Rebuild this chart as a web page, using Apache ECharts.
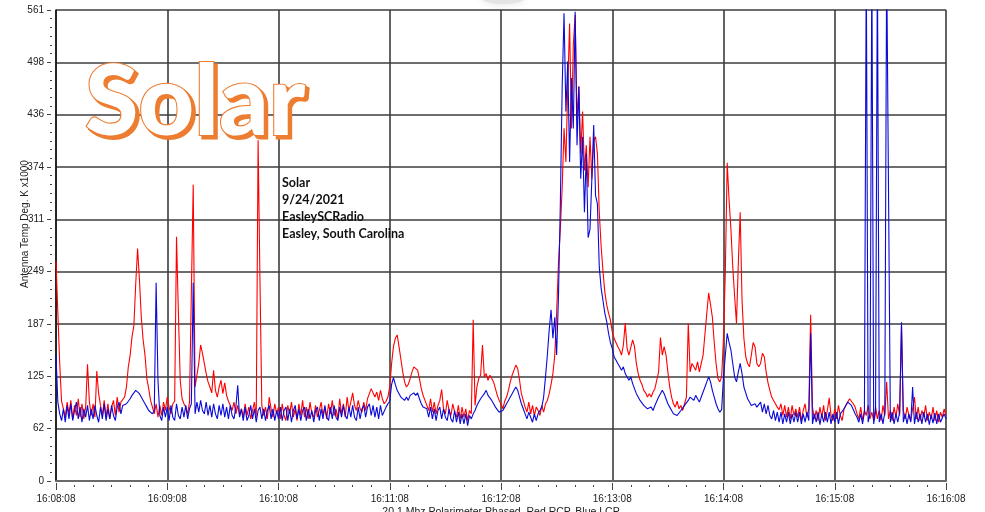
<!DOCTYPE html>
<html>
<head>
<meta charset="utf-8">
<script src="https://cdn.jsdelivr.net/npm/echarts@6/dist/echarts.min.js"></script>
<style>
  html, body { margin: 0; padding: 0; background: #fff; }
  #chart { width: 985px; height: 512px; }
</style>
</head>
<body>
<div id="chart"></div>
<script>
// Time axis: one sample per second, 16:08:08 .. 16:16:08
const xTickLabels = ['16:08:08', '16:09:08', '16:10:08', '16:11:08', '16:12:08',
                     '16:13:08', '16:14:08', '16:15:08', '16:16:08'];
const yTickLabels = ['0', '62', '125', '187', '249', '311', '374', '436', '498', '561'];
const yMax = 561;
const secondsPerMinorTick = 10;

// Red: right-hand circular polarisation (RCP), antenna temp K x1000
const rcp = [
  262,200,140,95,86,76,94,80,96,74,90,78,98,76,92,74,88,139,94,78,
  92,76,131,104,90,78,96,76,92,74,88,96,78,100,82,94,95,100,112,136,
  150,172,185,235,277,240,195,168,150,122,110,96,88,80,92,76,90,78,94,84,
  100,88,80,92,95,291,201,120,98,92,88,80,94,96,353,112,110,140,162,152,
  140,128,118,112,105,132,108,100,112,120,104,117,102,95,90,84,94,80,90,78,
  86,76,92,78,88,74,84,94,76,406,240,90,78,88,74,100,86,76,92,80,
  88,74,92,78,72,90,80,94,76,86,72,92,78,96,76,88,74,94,80,76,
  90,76,84,94,78,88,74,92,80,96,78,86,74,98,80,92,76,100,84,94,
  105,90,84,96,86,82,94,84,98,104,110,112,100,106,96,108,98,92,95,100,
  112,140,160,170,174,160,145,130,118,112,115,122,130,136,138,132,122,110,102,96,
  96,84,98,82,94,80,90,96,109,86,80,96,84,78,92,82,76,90,74,88,
  76,86,72,84,80,192,90,112,122,126,162,124,128,120,126,122,118,110,102,96,
  92,86,95,100,108,118,126,132,138,134,120,104,96,88,82,94,80,90,78,88,
  84,78,90,82,92,96,104,115,128,150,200,260,300,350,420,380,470,545,420,520,
  555,430,470,390,440,370,400,350,410,360,405,410,390,320,280,250,225,210,200,192,
  178,170,165,160,156,150,162,188,158,150,152,168,160,140,128,120,115,108,105,100,
  104,100,106,110,120,130,171,150,160,150,130,112,100,92,88,95,86,90,84,92,
  100,188,130,140,136,132,142,130,140,150,175,200,224,210,195,165,140,122,118,124,
  170,251,379,335,300,255,220,188,260,320,215,170,148,140,136,150,165,160,140,136,
  140,152,148,130,117,108,100,96,92,88,85,92,78,90,76,88,74,90,78,86,
  76,88,72,84,92,76,86,198,88,74,84,72,88,76,90,72,84,99,78,72,
  86,74,90,78,72,86,90,94,98,96,92,88,80,74,88,72,84,78,90,74,
  82,72,88,74,84,72,90,78,118,74,84,72,88,76,92,78,185,84,74,88,
  78,72,86,100,74,88,72,84,76,90,72,82,74,88,72,84,70,82,76,86,
  78
];

// Blue: left-hand circular polarisation (LCP)
const lcp = [
  150,94,80,72,86,70,90,74,92,72,84,94,74,88,70,86,76,90,72,86,
  74,90,78,70,88,74,92,72,86,74,90,78,72,88,94,80,90,88,92,95,
  98,102,105,108,110,104,100,96,92,88,84,86,80,84,236,120,78,72,88,76,
  88,72,90,76,72,92,78,74,88,76,90,74,86,92,236,80,94,82,96,84,
  80,94,78,90,76,92,80,74,90,78,92,76,88,74,90,78,74,88,114,76,
  86,72,88,72,78,90,74,86,70,84,88,74,86,72,84,90,74,86,72,84,
  74,88,72,84,88,72,86,70,84,90,74,86,72,84,88,72,86,74,84,70,
  84,88,72,86,74,90,76,72,88,74,90,76,72,88,76,90,78,74,88,76,
  90,76,72,88,74,86,90,76,88,92,78,90,76,88,74,90,78,76,88,92,
  95,115,123,115,108,104,100,98,96,100,96,102,100,105,102,105,98,92,88,86,
  86,76,88,74,86,72,84,88,74,86,76,72,86,74,70,84,70,82,68,80,
  68,80,66,78,74,80,84,90,94,98,100,104,108,102,100,96,92,88,86,82,
  80,84,88,92,96,100,104,108,112,108,100,92,86,80,74,82,76,70,80,72,
  80,84,88,100,124,150,180,204,170,195,150,220,330,470,557,440,500,380,480,420,
  559,400,470,360,410,320,390,290,300,360,424,340,330,255,230,215,200,190,176,165,
  158,148,150,140,136,132,136,128,124,120,124,116,110,104,100,96,93,90,88,86,
  85,88,84,90,92,100,104,108,104,98,92,88,84,80,82,78,80,84,86,90,
  92,96,100,98,96,102,98,94,100,106,112,118,124,118,108,100,92,86,82,85,
  124,150,176,165,156,140,124,118,130,140,128,112,105,98,94,90,88,92,88,86,
  94,82,92,80,90,78,74,84,72,82,70,82,68,80,70,82,68,80,70,82,
  70,82,68,80,70,82,72,176,68,80,70,82,67,80,70,82,70,82,68,80,
  70,82,68,80,80,86,90,94,96,90,88,80,76,70,80,68,82,620,70,80,
  620,68,82,620,70,80,68,82,620,620,70,82,68,80,70,82,189,70,80,68,
  80,70,112,68,82,70,80,68,82,70,80,67,79,69,81,68,80,70,68,80,
  74
];

const bigTitle = 'Solar';
const annotationLines = ['Solar', '9/24/2021', 'EasleySCRadio', 'Easley, South Carolina'];
const xAxisTitle = '20.1 Mhz Polarimeter Phased, Red RCP, Blue LCP';
const yAxisTitle = 'Antenna Temp Deg. K x1000';

const xMax = (xTickLabels.length - 1) * 60;
const yStep = yMax / (yTickLabels.length - 1);
const toPairs = arr => arr.map((v, i) => [i, v]);

const chart = echarts.init(document.getElementById('chart'), null, { renderer: 'canvas' });

const labelFont = { color: '#222', fontSize: 10, fontFamily: '"Liberation Sans", Arial, sans-serif' };
const gridLine = { show: true, lineStyle: { color: '#3c3c3c', width: 1.6 } };
const titleFont = '900 97px Lato, "Open Sans", sans-serif';
const titleOrange = '#ED7D31';

chart.setOption({
  animation: false,
  backgroundColor: '#fff',
  grid: { left: 56, right: 39, top: 10, bottom: 31, containLabel: false },
  xAxis: {
    type: 'value', min: 0, max: xMax, interval: 60,
    axisLine: { show: true, onZero: false, lineStyle: { color: '#6a6a6a', width: 2 } },
    axisTick: { show: true, length: 9, lineStyle: { color: '#444', width: 1, type: [0, 2, 7, 4] } },
    minorTick: { show: true, splitNumber: 60 / secondsPerMinorTick, length: 7,
                 lineStyle: { color: '#444', width: 1, type: [0, 4, 2, 4] } },
    axisLabel: Object.assign({ margin: 13, showMaxLabel: true, showMinLabel: true,
      formatter: v => xTickLabels[Math.round(v / 60)] }, labelFont),
    splitLine: gridLine
  },
  yAxis: {
    type: 'value', min: 0, max: yMax, interval: yStep,
    axisLine: { show: true, lineStyle: { color: '#111', width: 1.5 } },
    axisTick: { show: true, length: 9, lineStyle: { color: '#444', width: 1, type: [0, 5, 4, 4] } },
    minorTick: { show: true, splitNumber: 6, length: 7,
                 lineStyle: { color: '#444', width: 1, type: [0, 4, 2, 4] } },
    axisLabel: Object.assign({ margin: 12, showMaxLabel: true,
      formatter: v => yTickLabels[Math.round(v / yStep)] }, labelFont),
    splitLine: gridLine
  },
  series: [
    { name: 'RCP', type: 'line', data: toPairs(rcp), showSymbol: false, symbol: 'none',
      clip: true, lineStyle: { color: '#ff0000', width: 1.1 }, z: 2 },
    { name: 'LCP', type: 'line', data: toPairs(lcp), showSymbol: false, symbol: 'none',
      clip: true, lineStyle: { color: '#0a0ad8', width: 1.1 }, z: 3 }
  ],
  graphic: [
    // faint smudge at the top edge
    { type: 'ellipse', shape: { cx: 503, cy: -2, rx: 22, ry: 6 }, silent: true,
      style: { fill: '#e4e4e4', shadowColor: '#e4e4e4', shadowBlur: 8 } },
    // large title: solid orange drop layer, then white face with orange outline
    { type: 'text', x: 88, y: 58, z: 49, silent: true,
      style: { text: bigTitle, font: titleFont, fill: titleOrange, stroke: titleOrange, lineWidth: 3 } },
    { type: 'text', x: 85, y: 55, z: 50, silent: true,
      style: { text: bigTitle, font: titleFont, fill: '#ffffff', stroke: titleOrange, lineWidth: 2.2 } },
    // station annotation block
    { type: 'text', x: 282, y: 174, z: 50, silent: true,
      style: { text: annotationLines.join('\n'), font: 'bold 12.5px Lato, "Open Sans", sans-serif',
               fill: '#111', lineHeight: 17 } },
    // axis titles
    { type: 'text', x: 25, y: 224, rotation: Math.PI / 2, z: 50, silent: true,
      style: { text: yAxisTitle, font: '10px "Liberation Sans", Arial, sans-serif', fill: '#222',
               textAlign: 'center', textVerticalAlign: 'middle' } },
    { type: 'text', x: 501, y: 507, z: 50, silent: true,
      style: { text: xAxisTitle, font: '10.5px "Liberation Sans", Arial, sans-serif', fill: '#222',
               textAlign: 'center', textVerticalAlign: 'top' } }
  ]
});
</script>
</body>
</html>
